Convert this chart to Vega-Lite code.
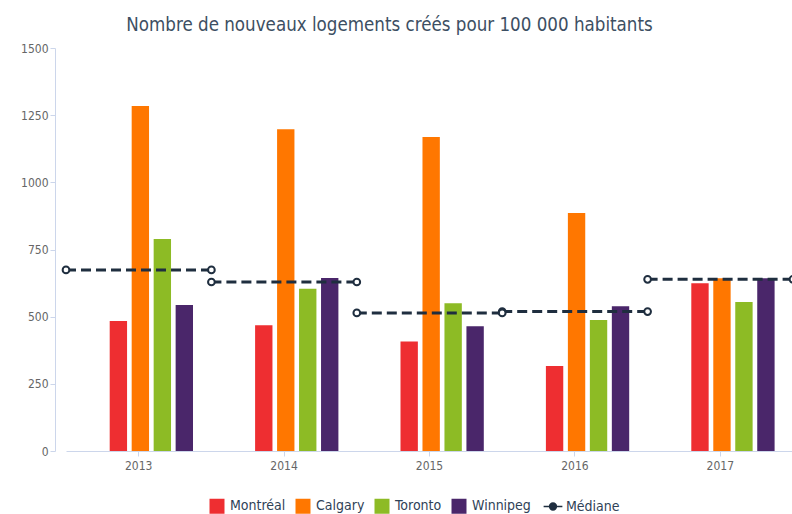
{
  "$schema": "https://vega.github.io/schema/vega-lite/v6.json",
  "autosize": {"type": "none"},
  "width": 727,
  "height": 403,
  "padding": {"left": 66, "top": 48, "right": 0, "bottom": 63},
  "background": "white",
  "title": {
    "text": "Nombre de nouveaux logements créés pour 100 000 habitants",
    "font": "DejaVu Sans Condensed, Roboto Condensed, Roboto",
    "fontSize": 18.6,
    "fontWeight": "normal",
    "color": "#3d4f63",
    "anchor": "middle",
    "dx": -40,
    "baseline": "alphabetic",
    "offset": -8
  },
  "datasets": {
    "barres": [
      {"annee": "2013", "ville": "Montréal", "valeur": 484},
      {"annee": "2013", "ville": "Calgary", "valeur": 1284},
      {"annee": "2013", "ville": "Toronto", "valeur": 789},
      {"annee": "2013", "ville": "Winnipeg", "valeur": 543},
      {"annee": "2014", "ville": "Montréal", "valeur": 468},
      {"annee": "2014", "ville": "Calgary", "valeur": 1198},
      {"annee": "2014", "ville": "Toronto", "valeur": 604},
      {"annee": "2014", "ville": "Winnipeg", "valeur": 644},
      {"annee": "2015", "ville": "Montréal", "valeur": 408},
      {"annee": "2015", "ville": "Calgary", "valeur": 1169},
      {"annee": "2015", "ville": "Toronto", "valeur": 550},
      {"annee": "2015", "ville": "Winnipeg", "valeur": 464},
      {"annee": "2016", "ville": "Montréal", "valeur": 316},
      {"annee": "2016", "ville": "Calgary", "valeur": 886},
      {"annee": "2016", "ville": "Toronto", "valeur": 488},
      {"annee": "2016", "ville": "Winnipeg", "valeur": 539},
      {"annee": "2017", "ville": "Montréal", "valeur": 624},
      {"annee": "2017", "ville": "Calgary", "valeur": 643},
      {"annee": "2017", "ville": "Toronto", "valeur": 555},
      {"annee": "2017", "ville": "Winnipeg", "valeur": 643}
    ],
    "medianes": [
      {"annee": "2013", "ville": "Médiane", "mediane": 674},
      {"annee": "2014", "ville": "Médiane", "mediane": 629},
      {"annee": "2015", "ville": "Médiane", "mediane": 514},
      {"annee": "2016", "ville": "Médiane", "mediane": 519},
      {"annee": "2017", "ville": "Médiane", "mediane": 639}
    ]
  },
  "encoding": {
    "x": {
      "field": "annee",
      "type": "nominal",
      "scale": {"type": "band", "paddingInner": 0, "paddingOuter": 0, "domain": ["2013", "2014", "2015", "2016", "2017"]},
      "axis": {
        "title": null,
        "labelAngle": 0,
        "labelFont": "DejaVu Sans Condensed, Roboto Condensed, Roboto",
        "labelFontSize": 12,
        "labelColor": "#666666",
        "labelPadding": 4,
        "domainColor": "#ccd6eb",
        "tickColor": "#ccd6eb",
        "tickSize": 5,
        "grid": false
      }
    }
  },
  "layer": [
    {
      "data": {"name": "barres"},
      "mark": {"type": "bar"},
      "encoding": {
        "xOffset": {
          "field": "ville",
          "type": "nominal",
          "scale": {"domain": ["Montréal", "Calgary", "Toronto", "Winnipeg"], "range": [43.7, 127], "paddingInner": 0.21, "paddingOuter": 0}
        },
        "y": {
          "field": "valeur",
          "type": "quantitative",
          "scale": {"domain": [0, 1500], "nice": false},
          "axis": {
            "title": null,
            "values": [0, 250, 500, 750, 1000, 1250, 1500],
            "format": "d",
            "offset": 11,
            "labelFont": "DejaVu Sans Condensed, Roboto Condensed, Roboto",
            "labelFontSize": 12,
            "labelColor": "#666666",
            "labelPadding": 2,
            "domainColor": "#ccd6eb",
            "tickColor": "#ccd6eb",
            "tickSize": 5,
            "grid": false
          }
        },
        "color": {
          "field": "ville",
          "type": "nominal",
          "scale": {
            "domain": ["Montréal", "Calgary", "Toronto", "Winnipeg", "Médiane"],
            "range": ["#ee2e31", "#ff7700", "#8dbb25", "#4a266a", "#1f2e3f"]
          },
          "legend": {
            "title": null,
            "orient": "none",
            "direction": "horizontal",
            "legendX": 144,
            "legendY": 451,
            "symbolSize": 225,
            "labelFont": "DejaVu Sans Condensed, Roboto Condensed, Roboto",
            "labelFontSize": 14,
            "labelColor": "#2f4257",
            "labelOffset": 6,
            "columnPadding": 9,
            "encode": {
              "symbols": {
                "enter": {
                  "fill": {"signal": "datum.value === 'Médiane' ? '#ffffff' : scale('color', datum.value)"}
                },
                "update": {
                  "shape": {"signal": "datum.value === 'Médiane' ? 'M-1.25,0H-0.45M0.45,0H1.25M-0.45,0A0.45,0.45,0,1,0,0.45,0A0.45,0.45,0,1,0,-0.45,0' : 'square'"},
                  "fill": {"signal": "datum.value === 'Médiane' ? '#ffffff' : scale('color', datum.value)"},
                  "stroke": {"signal": "datum.value === 'Médiane' ? '#1f2e3f' : scale('color', datum.value)"},
                  "strokeWidth": {"signal": "datum.value === 'Médiane' ? 1.6 : 0"},
                  "opacity": {"value": 1},
                  "fillOpacity": {"value": 1}
                }
              }
            }
          }
        }
      }
    },
    {
      "data": {"name": "medianes"},
      "mark": {"type": "rule", "strokeDash": [10, 5], "strokeWidth": 3},
      "encoding": {
        "x": {"field": "annee", "type": "nominal", "bandPosition": 0},
        "x2": {"field": "annee", "bandPosition": 1},
        "y": {"field": "mediane", "type": "quantitative"},
        "color": {"field": "ville", "type": "nominal"}
      }
    },
    {
      "data": {"name": "medianes"},
      "mark": {"type": "point", "shape": "circle", "size": 45, "filled": true, "fill": "#ffffff", "stroke": "#1f2e3f", "strokeWidth": 2, "opacity": 1},
      "encoding": {
        "x": {"field": "annee", "type": "nominal", "bandPosition": 0},
        "y": {"field": "mediane", "type": "quantitative"}
      }
    },
    {
      "data": {"name": "medianes"},
      "mark": {"type": "point", "shape": "circle", "size": 45, "filled": true, "fill": "#ffffff", "stroke": "#1f2e3f", "strokeWidth": 2, "opacity": 1},
      "encoding": {
        "x": {"field": "annee", "type": "nominal", "bandPosition": 1},
        "y": {"field": "mediane", "type": "quantitative"}
      }
    }
  ],
  "config": {
    "view": {"stroke": null},
    "font": "DejaVu Sans Condensed, Roboto Condensed, Roboto"
  }
}
